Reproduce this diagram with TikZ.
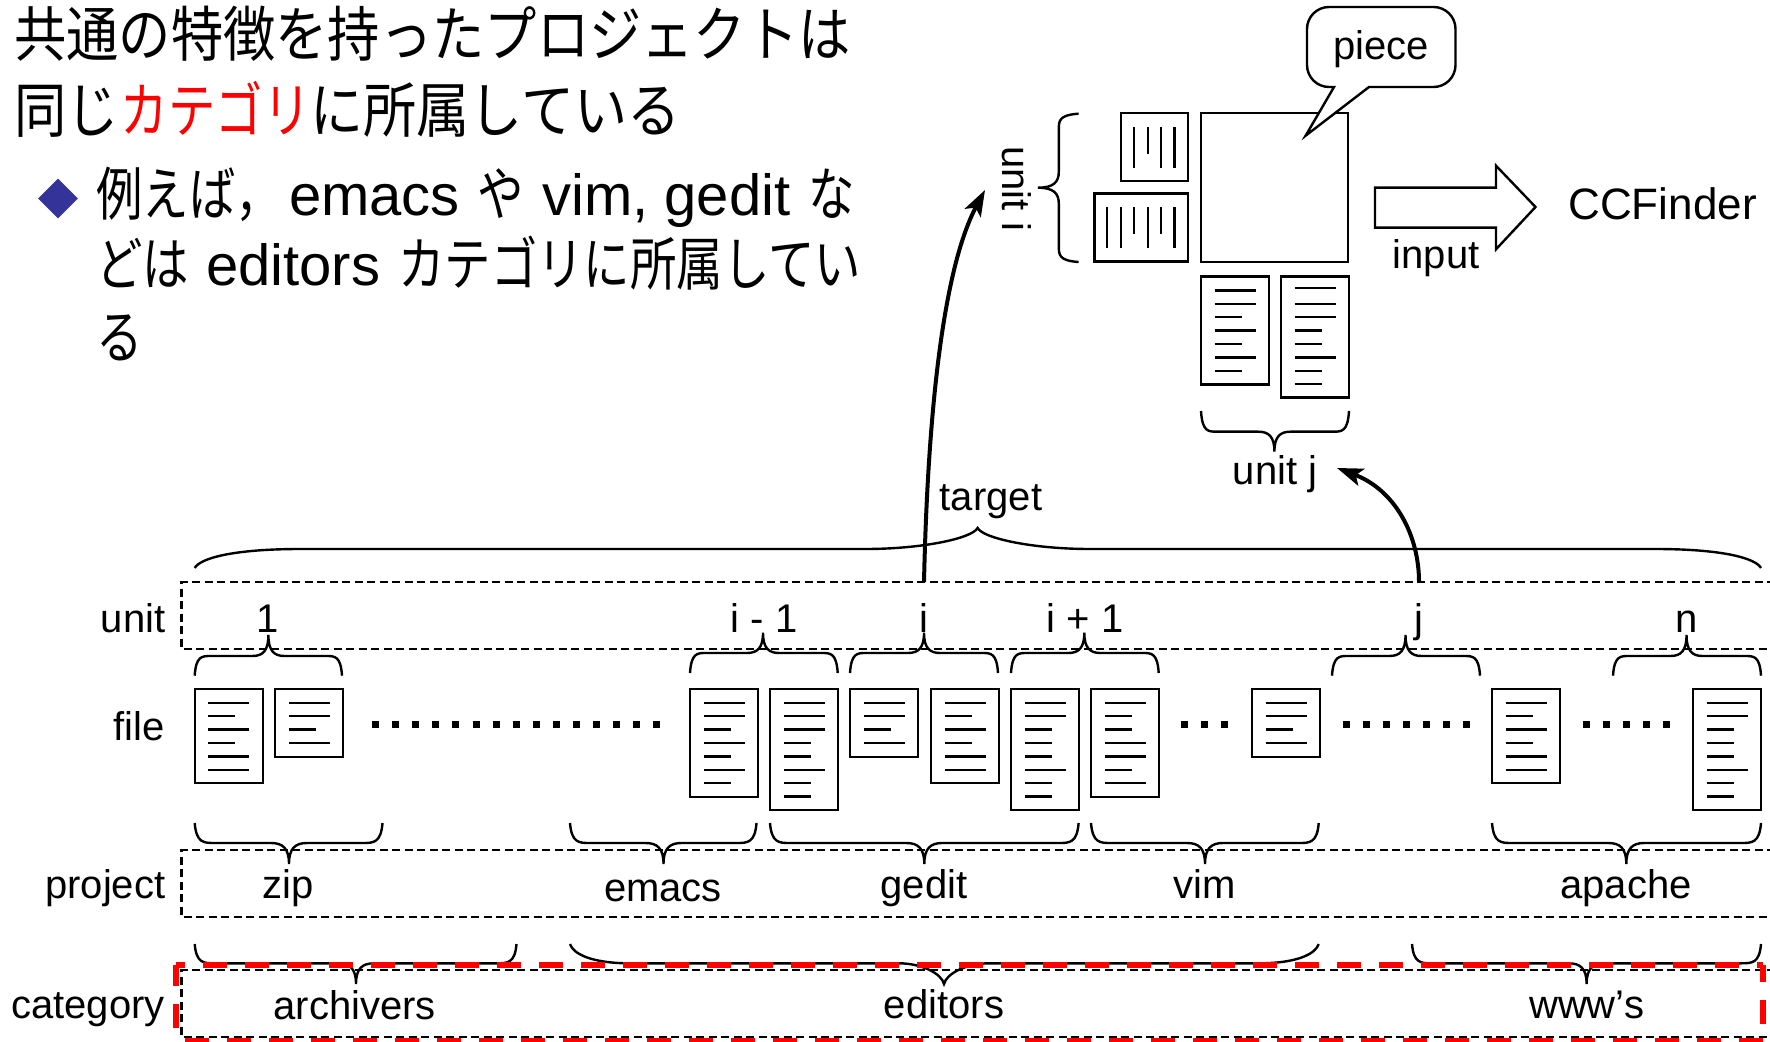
\documentclass[tikz,border=0pt]{standalone}
\usepackage{fontspec}
\setmainfont{Liberation Sans}
\newfontfamily\cjkA[FakeStretch=0.871]{Noto Sans CJK JP}
\newfontfamily\cjkAn[FakeStretch=0.79]{Noto Sans CJK JP}
\newfontfamily\cjkAw[FakeStretch=0.885]{Noto Sans CJK JP}
\newfontfamily\cjkB[FakeStretch=0.80]{Noto Sans CJK JP}
\usetikzlibrary{arrows.meta,shapes.geometric}
\definecolor{bulletblue}{RGB}{51,51,153}
\newcommand{\latinpart}[1]{{\fontsize{29pt}{34pt}\selectfont\rmfamily #1}}
\tikzset{
  lab/.style={inner sep=0pt,anchor=base,font=\fontsize{20pt}{24pt}\selectfont,text=black,yshift=-1pt},
  labr/.style={lab,anchor=base east},
  heada/.style={inner sep=0pt,anchor=base west,font=\fontsize{30pt}{36pt}\cjkA},
  headb/.style={inner sep=0pt,anchor=base west,font=\fontsize{29pt}{34pt}\cjkB},
  filebox/.style={draw=black,line width=1.2pt,inner sep=0pt,outer sep=0pt,anchor=north west,fill=white},
  fileline/.style={draw=black,line width=1.2pt},
  bracel/.style={draw=black,line width=1.2pt},
  dashbox/.style={draw=black,line width=1.2pt,dash pattern=on 4pt off 2.25pt},
  reddash/.style={draw=red,line width=3.2pt,dash pattern=on 12pt off 9pt},
  dotline/.style={draw=black,line width=3.5pt,dash pattern=on 3.5pt off 6.55pt},
  flow/.style={draw=black,line width=2pt,-{Stealth[length=13pt,width=9pt,inset=3pt]}},
  bigarrow/.style={draw=black,line width=1.2pt,fill=white},
  callout/.style={draw=black,line width=1.2pt,fill=white}
}
% name, x, y, height (px), list of line lengths
\newcommand{\docfile}[5]{%
  \node[filebox,minimum width=34pt,minimum height=#4*0.5pt] (#1) at (#2,#3) {};
  \foreach \len [count=\k] in {#5}{
    \draw[fileline] ({#2+13.6},{#3+13.7+(\k-1)*13.4}) -- ++(\len,0);
  }%
}
% x0,x1,xtip,yend,ybar,ytip,r,rt
\newcommand{\hbrace}[8]{%
  \draw[bracel] (#1,#4)
    .. controls ({#1+.08*#7},#5) and ({#1+.45*#7},#5) .. ({#1+#7},#5)
    -- ({#3-#8},#5)
    .. controls ({#3-.35*#8},#5) and (#3,{#5+.25*(#6-#5)}) .. (#3,#6)
    .. controls (#3,{#5+.25*(#6-#5)}) and ({#3+.35*#8},#5) .. ({#3+#8},#5)
    -- ({#2-#7},#5)
    .. controls ({#2-.45*#7},#5) and ({#2-.08*#7},#5) .. (#2,#4);
}
% the wide braces have long flat shoulders
\newcommand{\widebrace}[8]{%
  \draw[bracel] (#1,#4)
    .. controls ({#1+.05*#7},{(#4+#5)/2}) and ({#1+.35*#7},#5) .. ({#1+#7},#5)
    -- ({#3-#8},#5)
    .. controls ({#3-.5*#8},#5) and ({#3-.05*#8},{(#5+#6)/2}) .. (#3,#6)
    .. controls ({#3+.05*#8},{(#5+#6)/2}) and ({#3+.5*#8},#5) .. ({#3+#8},#5)
    -- ({#2-#7},#5)
    .. controls ({#2-.35*#7},#5) and ({#2-.05*#7},{(#4+#5)/2}) .. (#2,#4);
}
\newcommand{\vbrace}[8]{%
  \draw[bracel] (#4,#1)
    .. controls (#5,{#1+.08*#7}) and (#5,{#1+.45*#7}) .. (#5,{#1+#7})
    -- (#5,{#3-#8})
    .. controls (#5,{#3-.35*#8}) and ({#5+.25*(#6-#5)},#3) .. (#6,#3)
    .. controls ({#5+.25*(#6-#5)},#3) and (#5,{#3+.35*#8}) .. (#5,{#3+#8})
    -- (#5,{#2-#7})
    .. controls (#5,{#2-.45*#7}) and (#5,{#2-.08*#7}) .. (#4,#2);
}
\begin{document}
\begin{tikzpicture}[x=0.5pt,y=-0.5pt]
\useasboundingbox (0,0) rectangle (1770,1042);
% heading text
\node[heada] (h1) at (14,57) {共通の特徴を持ったプロジェクトは};
\node[heada] (h2) at (14,133) {同じ\hspace{1pt}{\cjkAn\color{red}カテゴリ}{\cjkAw に所属している}};
\node[diamond,aspect=1,fill=bulletblue,inner sep=0pt,minimum width=20pt,minimum height=20pt] (bul) at (58,198.5) {};
\node[headb] (b1) at (96,216) {例えば，\hspace{3.5pt}\latinpart{emacs}\hspace{9pt}や\hspace{9pt}\latinpart{vim, gedit}\hspace{9pt}な};
\node[headb] (b2) at (96,286) {どは\hspace{8.5pt}\latinpart{editors}\hspace{9pt}カテゴリに所属してい};
\node[headb] (b3) at (96,359) {る};
% layer boxes (open on the right)
\draw[dashbox] (1775,582) -- (181.6,582) -- (181.6,649) -- (1775,649);
\draw[dashbox] (1775,850) -- (181.6,850) -- (181.6,917) -- (1775,917);
\draw[dashbox] (1775,970) -- (181.6,970) -- (181.6,1037) -- (1775,1037);
% row labels
\node[labr] (lunit) at (165.7,630) {unit};
\node[labr] (lfile) at (165,738) {file};
\node[labr] (lproj) at (165.7,896.7) {project};
\node[labr] (lcat) at (165,1016.7) {category};
% unit numbers
\node[lab] (u1) at (268,630) {1};
\node[lab] (uim) at (764,630) {i - 1};
\node[lab] (ui) at (924,630) {i};
\node[lab] (uip) at (1085,630) {i + 1};
\node[lab] (uj) at (1419,630) {j};
\node[lab] (un) at (1686.5,630) {n};
% files row
\docfile{f1}{194.7}{689}{94}{41,27,41,27,41,41}
\docfile{f2}{275.2}{689}{68}{41,41,27,41}
\docfile{f3}{690}{689}{108}{41,41,27,41,27,41,27}
\docfile{f4}{770}{689}{121}{41,41,41,27,27,41,27,27}
\docfile{f5}{850}{689}{68}{41,41,27,41}
\docfile{f6}{931}{689}{94}{41,27,41,27,41,41}
\docfile{f7}{1011}{689}{121}{41,41,27,27,27,41,27,27}
\docfile{f8}{1091}{689}{108}{41,27,27,41,41,27,41}
\docfile{f9}{1252}{689}{68}{41,41,27,41}
\docfile{f10}{1492}{689}{94}{41,27,41,27,41,41}
\docfile{f11}{1693}{689}{121}{41,41,27,27,27,41,27,27}
% dots
\draw[dotline] (372,724) -- (661,724);
\draw[dotline] (1181,724) -- (1228,724);
\draw[dotline] (1342.5,724) -- (1470,724);
\draw[dotline] (1582.6,724) -- (1670,724);
% file braces (tips up)
\hbrace{194.7}{342}{268.4}{675.7}{656}{635}{16}{16}
\hbrace{690}{837.7}{763}{673}{653}{632.7}{16}{16}
\hbrace{850}{998}{924}{673}{653}{632.7}{16}{16}
\hbrace{1011}{1158.7}{1084.3}{673}{653}{632.7}{16}{16}
\hbrace{1332}{1480}{1405.5}{675.7}{656}{635}{16}{16}
\hbrace{1613}{1761}{1686.5}{675.7}{656}{635}{16}{16}
% project braces
\hbrace{194.7}{382.5}{289}{823}{843}{864}{20}{18}
\hbrace{570}{756.5}{663.5}{823}{843}{864}{20}{18}
\hbrace{770}{1078.6}{924.3}{823}{843}{864}{20}{18}
\hbrace{1091}{1318.7}{1205}{823}{843}{864}{20}{18}
\hbrace{1492}{1761}{1626.3}{823}{843}{864}{20}{18}
% project names
\node[lab] (pzip) at (288,896.7) {zip};
\node[lab] (pemacs) at (663,899) {emacs};
\node[lab] (pgedit) at (924,896.7) {gedit};
\node[lab] (pvim) at (1205,896.7) {vim};
\node[lab] (papache) at (1626,896.7) {apache};
% category braces
\hbrace{194.7}{516.5}{356}{944}{963.3}{984}{20}{18}
\widebrace{570}{1318.7}{944}{944}{963.3}{984}{60}{45}
\hbrace{1412}{1761}{1586.6}{944}{963.3}{984}{20}{18}
% category names
\node[lab] (carch) at (354.7,1017) {archivers};
\node[lab] (cedit) at (944,1016.7) {editors};
\node[lab] (cwww) at (1586.6,1016.7) {www’s};
% target brace
\widebrace{194.7}{1761}{977.6}{568}{549}{528}{106}{112}
\node[lab] (target) at (991,508) {target};
% upper assembly
\node[filebox,minimum width=73.5pt,minimum height=74.5pt] (big) at (1201,113) {};
\node[filebox,minimum width=33.5pt,minimum height=34pt] (ri1) at (1121,113) {};
\foreach \xx/\yy in {1134/167.7,1148/154,1161/167.7,1174.5/167.7}{
  \draw[fileline] (\xx,127) -- (\xx,\yy);
}
\node[filebox,minimum width=46.7pt,minimum height=34pt] (ri2) at (1094.5,193.7) {};
\foreach \xx/\yy in {1107/247.7,1121/247.7,1134/234,1148/247.7,1161/234,1174.5/247.7}{
  \draw[fileline] (\xx,207.3) -- (\xx,\yy);
}
\vbrace{113.7}{262}{187.7}{1078.6}{1058.8}{1037.8}{16}{16}
\node[lab,yshift=1pt,rotate=-90,anchor=center] (uniti) at (1017,188.7) {unit i};
\docfile{j1}{1201}{276.7}{108}{41,41,27,41,27,41,27}
\docfile{j2}{1281}{276.7}{121}{0,41,41,27,27,41,27,27}
\draw[fileline] (1294.6,288.2) -- ++(41,0);
\hbrace{1201}{1349}{1274.4}{411}{431.7}{451.7}{16}{16}
\node[lab] (unitj) at (1275,483) {unit j};
% callout
\draw[callout] (1334,87) -- (1305.6,135.7) -- (1369,87) [rounded corners=11pt]
  -- (1455.5,87) -- (1455.5,7) -- (1307,7) -- (1307,87) [sharp corners] -- cycle;
\node[lab] (piece) at (1381,57.3) {piece};
% block arrow
\draw[bigarrow] (1375,187.7) -- (1496,187.7) -- (1496,165.7) -- (1535.5,207) -- (1496,249.3) -- (1496,227.7) -- (1375,227.7) -- cycle;
\node[lab] (input) at (1436,267) {input};
\node[lab,font=\fontsize{22pt}{26pt}\selectfont,anchor=base west] (ccf) at (1568,218) {CCFinder};
% flow arrows
\coordinate (si) at (924,582);
\coordinate (ti) at (985,190);
\coordinate (sj) at (1419,582);
\coordinate (tj) at (1337,468);
\draw[flow] (si) .. controls (928,400) and (945,265) .. (ti);
\draw[flow] (sj) .. controls (1419,535) and (1395,490) .. (tj);
% red selection
\coordinate (rTL) at (176,965);
\coordinate (rTR) at (1763,965);
\coordinate (rBR) at (1763,1041);
\coordinate (rBL) at (176,1041);
\draw[reddash,dash phase=7.5pt] (rTL) -- (rTR);
\draw[reddash,dash phase=3.5pt] (rTR) -- (rBR);
\draw[reddash,dash phase=16.5pt] (rBL) -- (rBR);
\draw[reddash,dash phase=1.5pt] (rTL) -- (rBL);
\end{tikzpicture}
\end{document}
